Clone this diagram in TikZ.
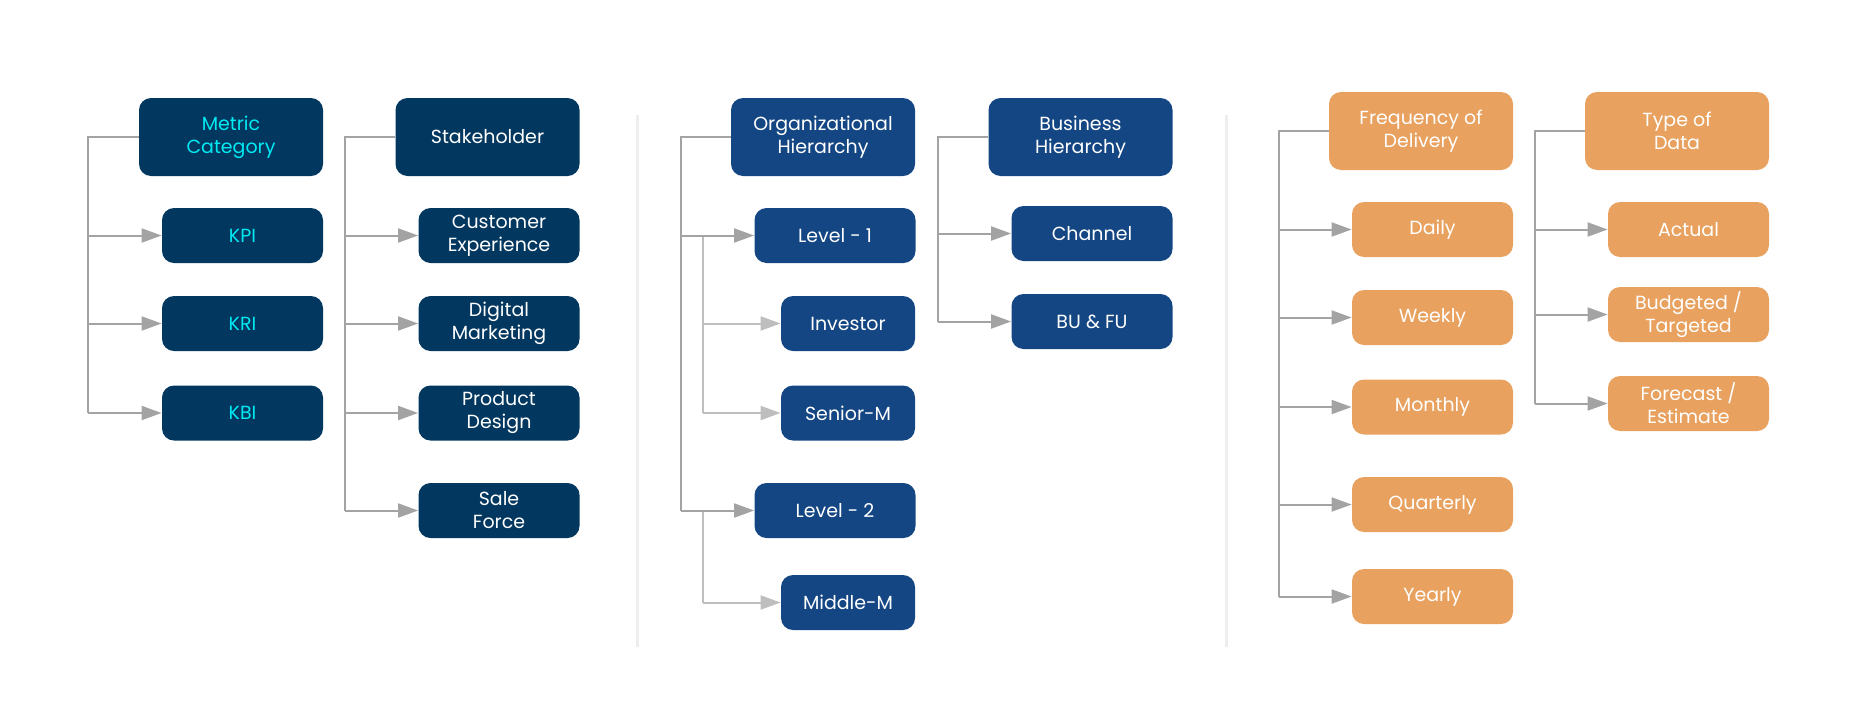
\documentclass[tikz,border=0pt]{standalone}
\usepackage{fontspec}
\setmainfont{Poppins}
\usepackage{tikz}
\usetikzlibrary{arrows.meta, positioning}
\definecolor{navy}{HTML}{023760}
\definecolor{royal}{HTML}{144683}
\definecolor{sand}{HTML}{E8A15E}
\definecolor{aqua}{HTML}{00EAF2}
\definecolor{wire}{HTML}{A3A3A3}
\definecolor{softwire}{HTML}{BEBEBE}
\definecolor{divider}{HTML}{EEEEEE}

\begin{document}
\begin{tikzpicture}[x=0.5pt, y=-0.5pt,
        box/.style={rounded corners=6pt, align=center, text=white, inner sep=0pt, font=\fontsize{9.5}{11.5}\selectfont},
        head/.style={box, minimum width=92pt, minimum height=39pt},
        item/.style={box, minimum width=80.5pt, minimum height=27.5pt},
        sub/.style={box, minimum width=67pt, minimum height=27.5pt},
        link/.style={wire, line width=1pt},
        tip/.style={link, -{Triangle[length=10pt, width=7pt]}},
        softtip/.style={tip, softwire}]
        \useasboundingbox (0,0) rectangle (1866,702);

        % Dividers
        \draw[divider, line width=1.5pt] (637,115) -- (637,647);
        \draw[divider, line width=1.5pt] (1226,115) -- (1226,647);

        % Metric category
        \node[head, fill=navy, text=aqua] (mc) at (231,137) {Metric\\Category};
        \node[item, fill=navy, text=aqua] (kpi) at (242.5,235.5) {KPI};
        \node[item, fill=navy, text=aqua] (kri) at (242.5,323.5) {KRI};
        \node[item, fill=navy, text=aqua] (kbi) at (242.5,413) {KBI};

        % Stakeholder
        \node[head, fill=navy] (sh) at (487.5,137) {Stakeholder};
        \node[item, fill=navy] (cx) at (499,235.5) {Customer\\Experience};
        \node[item, fill=navy] (dm) at (499,323.5) {Digital\\Marketing};
        \node[item, fill=navy] (pd) at (499,413) {Product\\Design};
        \node[item, fill=navy] (sf) at (499,510.5) {Sale\\Force};

        % Organizational hierarchy
        \node[head, fill=royal] (oh) at (823,137) {Organizational\\Hierarchy};
        \node[item, fill=royal] (lv1) at (835,235.5) {Level - 1};
        \node[sub, fill=royal] (inv) at (848,323.5) {Investor};
        \node[sub, fill=royal] (sen) at (848,413) {Senior-M};
        \node[item, fill=royal] (lv2) at (835,510.5) {Level - 2};
        \node[sub, fill=royal] (mid) at (848,602.5) {Middle-M};

        % Business hierarchy
        \node[head, fill=royal] (bh) at (1080.5,137) {Business\\Hierarchy};
        \node[item, fill=royal] (chn) at (1092,233.5) {Channel};
        \node[item, fill=royal] (bu) at (1092,321.5) {BU \& FU};

        % Frequency of delivery
        \node[head, fill=sand] (fd) at (1421,131) {Frequency of\\Delivery};
        \node[item, fill=sand] (day) at (1432.5,229.5) {Daily};
        \node[item, fill=sand] (week) at (1432.5,317.5) {Weekly};
        \node[item, fill=sand] (month) at (1432.5,407) {Monthly};
        \node[item, fill=sand] (quart) at (1432.5,504.5) {Quarterly};
        \node[item, fill=sand] (year) at (1432.5,596.5) {Yearly};

        % Type of data
        \node[head, fill=sand] (td) at (1677,131) {Type of\\Data};
        \node[item, fill=sand] (act) at (1688.5,229.5) {Actual};
        \node[item, fill=sand] (bud) at (1688.5,314.5) {Budgeted /\\Targeted};
        \node[item, fill=sand] (fc) at (1688.5,403.5) {Forecast /\\Estimate};

        % Trunks
        \coordinate (t1) at (88,0);
        \coordinate (t2) at (345,0);
        \coordinate (t3) at (681,0);
        \coordinate (s3) at (703,0);
        \coordinate (t4) at (938,0);
        \coordinate (t5) at (1279,0);
        \coordinate (t6) at (1535,0);
        \draw[link] (mc.west) -| (t1 |- kbi);
        \draw[link] (sh.west) -| (t2 |- sf);
        \draw[link] (oh.west) -| (t3 |- lv2);
        \draw[link] (bh.west) -| (t4 |- bu);
        \draw[link] (fd.west) -| (t5 |- year);
        \draw[link] (td.west) -| (t6 |- fc);
        \draw[softwire, line width=1pt] (s3 |- lv1) -- (s3 |- sen);
        \draw[softwire, line width=1pt] (s3 |- lv2) -- (s3 |- mid);

        % Branches
        \foreach \n in {kpi,kri,kbi} \draw[tip] (t1 |- \n) -- (\n.west);
        \foreach \n in {cx,dm,pd,sf} \draw[tip] (t2 |- \n) -- (\n.west);
        \foreach \n in {lv1,lv2} \draw[tip] (t3 |- \n) -- (\n.west);
        \foreach \n in {inv,sen,mid} \draw[softtip] (s3 |- \n) -- (\n.west);
        \foreach \n in {chn,bu} \draw[tip] (t4 |- \n) -- (\n.west);
        \foreach \n in {day,week,month,quart,year} \draw[tip] (t5 |- \n) -- (\n.west);
        \foreach \n in {act,bud,fc} \draw[tip] (t6 |- \n) -- (\n.west);
    \end{tikzpicture}
\end{document}
